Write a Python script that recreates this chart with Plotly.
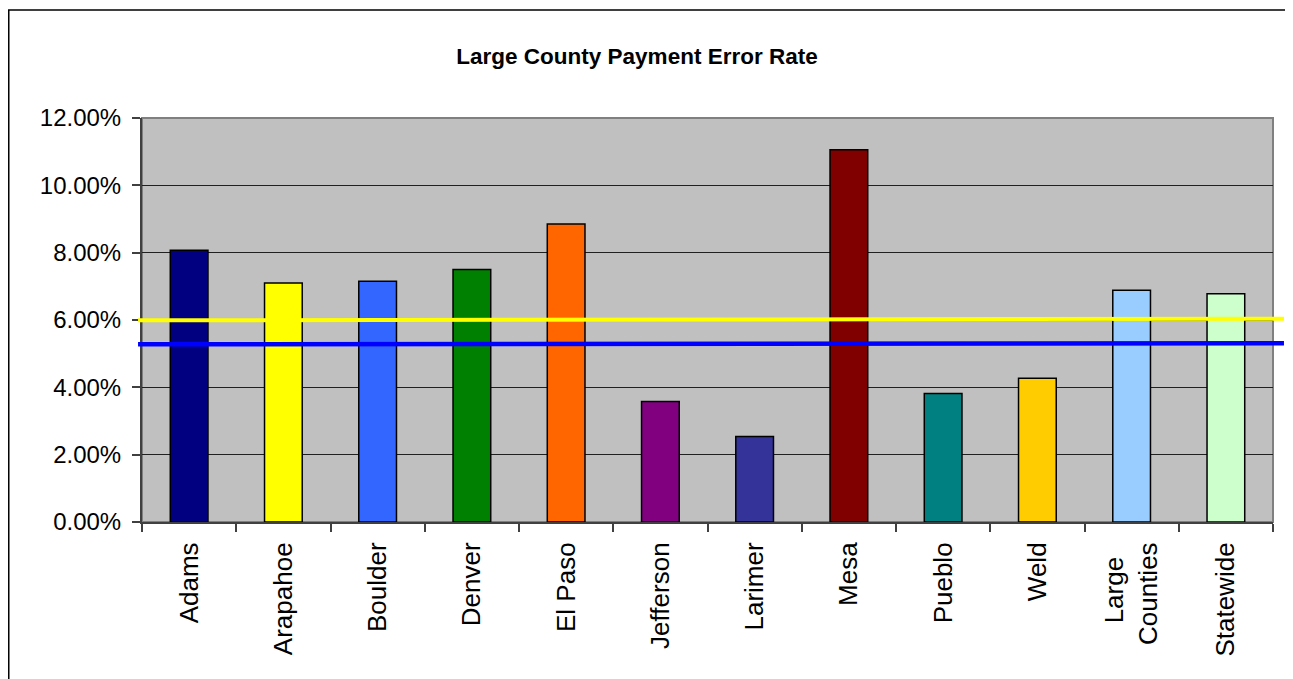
import plotly.graph_objects as go

categories = ["Adams", "Arapahoe", "Boulder", "Denver", "El Paso", "Jefferson",
              "Larimer", "Mesa", "Pueblo", "Weld", "Large Counties", "Statewide"]
tick_labels = ["Adams", "Arapahoe", "Boulder", "Denver", "El Paso", "Jefferson",
               "Larimer", "Mesa", "Pueblo", "Weld",
               "Large&nbsp;&nbsp;<br>Counties", "Statewide"]
error_rates = [0.0807, 0.0710, 0.0715, 0.0750, 0.0885, 0.0358,
               0.0254, 0.1106, 0.0382, 0.0427, 0.0688, 0.0678]
bar_colors = ["#000080", "#FFFF00", "#3366FF", "#008000", "#FF6600", "#800080",
              "#333399", "#800000", "#008080", "#FFCC00", "#99CCFF", "#CCFFCC"]

# reference lines (left value, right value)
yellow_line = [0.0599, 0.0604]
blue_line = [0.0528, 0.0531]

y_ticks = [0, 0.02, 0.04, 0.06, 0.08, 0.10, 0.12]

FONT = "Arial, Liberation Sans, Helvetica, sans-serif"

fig = go.Figure()
fig.add_trace(go.Bar(
    x=categories, y=error_rates, width=0.4,
    marker=dict(color=bar_colors, line=dict(color="black", width=1.5)),
    showlegend=False, hoverinfo="x+y",
))

# plot area border (grey top/right), drawn below traces
fig.add_shape(type="rect", xref="paper", yref="paper", x0=0, x1=1, y0=0, y1=1,
              line=dict(color="#808080", width=2), layer="below")

# reference lines spanning the plot width
fig.add_shape(type="line", xref="paper", yref="y", x0=-0.0035, x1=1.0097,
              y0=yellow_line[0], y1=yellow_line[1],
              line=dict(color="#FFFF00", width=4))
fig.add_shape(type="line", xref="paper", yref="y", x0=-0.0035, x1=1.0097,
              y0=blue_line[0], y1=blue_line[1],
              line=dict(color="#0000FF", width=4.5))

# outer chart frame
fig.add_shape(type="rect", xref="paper", yref="paper",
              x0=-0.1178, x1=1.0118, y0=-0.45, y1=1.2673,
              line=dict(color="black", width=1.5), fillcolor="rgba(0,0,0,0)")

# page body has an 8px margin, so the figure is 8px smaller and offset
fig.update_layout(
    width=1285, height=671,
    margin=dict(l=134, r=20, t=110, b=157),
    paper_bgcolor="white",
    plot_bgcolor="#C0C0C0",
    title=dict(text="<b>Large County Payment Error Rate</b>",
               x=(637 - 8) / 1285, xanchor="center",
               y=1 - (56 - 8) / 671, yanchor="middle",
               font=dict(family=FONT, size=22.5, color="black")),
    font=dict(family=FONT, color="black"),
    bargap=0.6,
)
fig.update_xaxes(
    tickmode="array", tickvals=categories, ticktext=tick_labels,
    tickangle=-90, tickfont=dict(family=FONT, size=26, color="black"),
    ticks="outside", ticklen=8, tickcolor="#404040", tickwidth=1.5,
    tickson="boundaries", ticklabelstandoff=8,
    showline=True, linecolor="#404040", linewidth=2,
    showgrid=False, fixedrange=True,
)
fig.update_yaxes(
    range=[0, 0.12], tickvals=y_ticks, tickformat=".2%",
    tickfont=dict(family=FONT, size=24, color="black"),
    ticks="outside", ticklen=8, tickcolor="#404040", tickwidth=1.5,
    ticklabelstandoff=6,
    showline=True, linecolor="#404040", linewidth=2,
    showgrid=True, gridcolor="#202020", gridwidth=1,
    zeroline=False, fixedrange=True,
)

fig.write_html("out.html")
